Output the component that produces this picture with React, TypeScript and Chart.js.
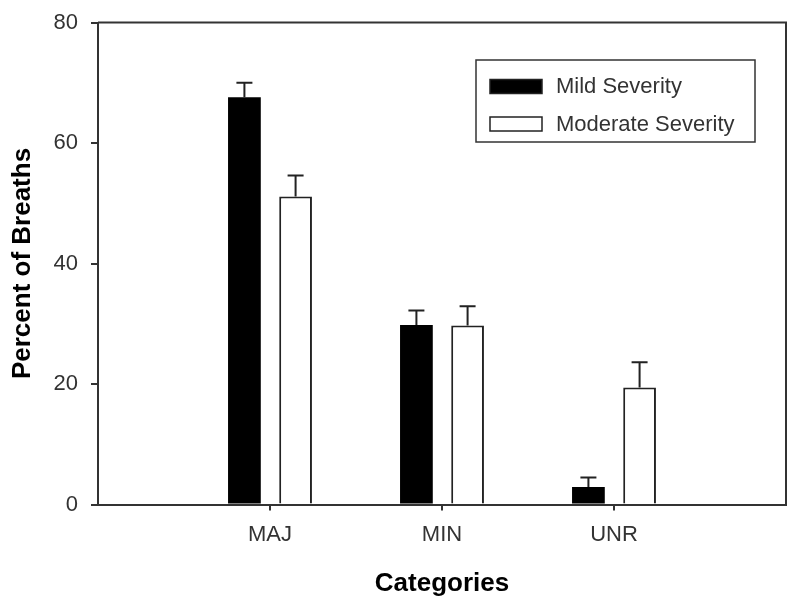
import React, { useEffect, useRef } from "react";
import { Chart, registerables } from "chart.js";

Chart.register(...registerables);

const categories = ["", "MAJ", "MIN", "UNR", ""];
const seriesNames = ["Mild Severity", "Moderate Severity"];
const mildValues = [null, 67.6, 29.8, 2.9, null];
const moderateValues = [null, 51.1, 29.7, 19.4, null];
const mildErrors = [null, 2.4, 2.4, 1.6, null];
const moderateErrors = [null, 3.5, 3.2, 4.2, null];
const yTicks = [0, 20, 40, 60, 80];

const FONT = '"Liberation Sans", Arial, Helvetica, sans-serif';

const errorBarPlugin = {
  id: "errorBars",
  afterDatasetsDraw(chart: any) {
    const ctx = chart.ctx;
    const yScale = chart.scales.y;
    chart.data.datasets.forEach((ds: any, i: number) => {
      const meta = chart.getDatasetMeta(i);
      const errs = ds.errors || [];
      meta.data.forEach((bar: any, j: number) => {
        const v = ds.data[j];
        const e = errs[j];
        if (v == null || e == null) return;
        const top = yScale.getPixelForValue(v + e);
        ctx.save();
        ctx.strokeStyle = "#222";
        ctx.lineWidth = 2;
        ctx.beginPath();
        ctx.moveTo(bar.x, bar.y);
        ctx.lineTo(bar.x, top);
        ctx.moveTo(bar.x - 8, top);
        ctx.lineTo(bar.x + 8, top);
        ctx.stroke();
        ctx.restore();
      });
    });
  },
};

const framePlugin = {
  id: "frameAndLegend",
  afterDraw(chart: any) {
    const ctx = chart.ctx;
    const a = chart.chartArea;
    ctx.save();
    ctx.strokeStyle = "#333";
    ctx.lineWidth = 2;
    ctx.beginPath();
    ctx.moveTo(a.left, a.top);
    ctx.lineTo(a.right, a.top);
    ctx.lineTo(a.right, a.bottom);
    ctx.stroke();

    // legend box
    const bx = 476, by = 60, bw = 279, bh = 82;
    ctx.lineWidth = 1.5;
    ctx.strokeStyle = "#333";
    ctx.strokeRect(bx, by, bw, bh);
    chart.data.datasets.forEach((ds: any, i: number) => {
      const sy = 79.5 + i * 37.5;
      ctx.fillStyle = ds.backgroundColor;
      ctx.fillRect(490, sy, 52, 14);
      ctx.lineWidth = 1.5;
      ctx.strokeStyle = "#222";
      ctx.strokeRect(490, sy, 52, 14);
      ctx.fillStyle = "#333";
      ctx.font = `22px ${FONT}`;
      ctx.textBaseline = "middle";
      ctx.textAlign = "left";
      ctx.fillText(ds.label, 556, sy + 7.5);
    });
    ctx.restore();
  },
};

export default function App() {
  const ref = useRef<HTMLCanvasElement>(null);
  useEffect(() => {
    if (!ref.current) return;
    const chart = new Chart(ref.current, {
      type: "bar",
      data: {
        labels: categories,
        datasets: [
          {
            label: seriesNames[0],
            data: mildValues,
            errors: mildErrors,
            backgroundColor: "#000",
            borderColor: "#000",
            borderWidth: 0,
          } as any,
          {
            label: seriesNames[1],
            data: moderateValues,
            errors: moderateErrors,
            backgroundColor: "#fff",
            borderColor: "#222",
            borderWidth: 2,
          } as any,
        ],
      },
      options: {
        animation: false,
        responsive: false,
        events: [],
        layout: { padding: { top: 22.5, right: 14, left: 0, bottom: 0 } },
        datasets: {
          bar: { categoryPercentage: 0.595, barPercentage: 0.64 },
        },
        plugins: {
          legend: { display: false },
          tooltip: { enabled: false },
        },
        scales: {
          x: {
            offset: false,
            grid: {
              offset: false,
              drawOnChartArea: false,
              drawTicks: true,
              tickLength: 6,
              lineWidth: 2,
              color: (c: any) =>
                c.index === 0 || c.index === categories.length - 1 ? "rgba(0,0,0,0)" : "#333",
            },
            border: { display: true, color: "#333", width: 2 },
            ticks: {
              color: "#333",
              padding: 11,
              maxRotation: 0,
              autoSkip: false,
              font: { family: FONT, size: 22 },
            },
            title: {
              display: true,
              text: "Categories",
              color: "#000",
              font: { family: FONT, size: 26, weight: "bold" },
              padding: { top: 0, bottom: 10 },
            },
            afterFit(scale: any) {
              scale.height = 104.5;
              scale.paddingLeft = 0;
              scale.paddingRight = 0;
            },
          },
          y: {
            min: 0,
            max: 80,
            afterBuildTicks(scale: any) {
              scale.ticks = yTicks.map((v) => ({ value: v }));
            },
            grid: {
              drawOnChartArea: false,
              drawTicks: true,
              tickLength: 7,
              lineWidth: 2,
              color: "#333",
            },
            border: { display: true, color: "#333", width: 2 },
            ticks: {
              color: "#333",
              padding: 13,
              font: { family: FONT, size: 22 },
            },
            title: {
              display: true,
              text: "Percent of Breaths",
              color: "#000",
              font: { family: FONT, size: 26, weight: "bold" },
              padding: { top: 7, bottom: 0 },
            },
            afterFit(scale: any) {
              scale.width = 98;
              scale.paddingTop = 0;
              scale.paddingBottom = 0;
            },
          },
        },
      } as any,
      plugins: [errorBarPlugin, framePlugin],
    });
    return () => chart.destroy();
  }, []);
  return (
    <div style={{ position: "absolute", left: 0, top: 0, width: 800, height: 609, background: "#fff" }}>
      <canvas ref={ref} width={800} height={609} />
    </div>
  );
}
